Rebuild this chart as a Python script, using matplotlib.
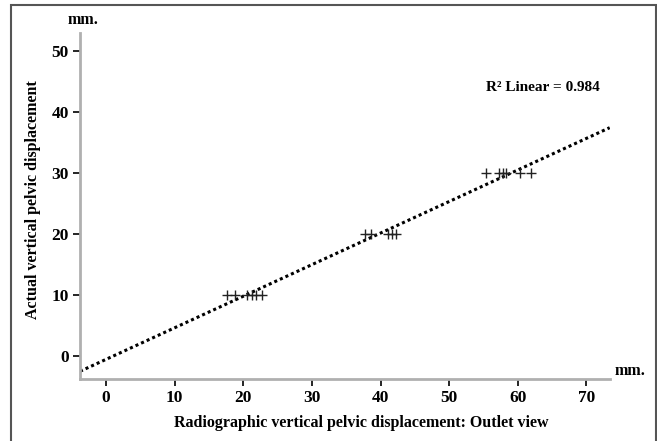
import numpy as np
import matplotlib
matplotlib.use('Agg')
import matplotlib.pyplot as plt
from matplotlib.patches import Rectangle

# Radiographic (outlet view) vs actual vertical pelvic displacement, mm
radiographic = [17.6, 18.8, 20.5, 21.2, 21.8, 22.7,
                37.8, 38.6, 41.1, 41.6, 42.2,
                55.4, 57.2, 57.8, 58.3, 60.3, 61.9]
actual = [10, 10, 10, 10, 10, 10,
          20, 20, 20, 20, 20,
          30, 30, 30, 30, 30, 30]
x_ticks = [0, 10, 20, 30, 40, 50, 60, 70]
y_ticks = [0, 10, 20, 30, 40, 50]
r2_text = 'R² Linear = 0.984'

plt.rcParams['font.family'] = 'Liberation Serif'
plt.rcParams['font.weight'] = 'bold'

fig = plt.figure(figsize=(6.57, 4.41), dpi=100)
ax = fig.add_axes([0.1218, 0.1406, 0.8062, 0.7844])

xmin, xmax = -3.8, 73.4
ymin, ymax = -3.8, 53.0

# linear fit line over the whole x range
slope, intercept = np.polyfit(radiographic, actual, 1)
xs = np.array([xmin, xmax])
ax.plot(xs, slope * xs + intercept, color='black', linestyle=(0, (1, 1.0)), linewidth=2.2)

ax.plot(radiographic, actual, linestyle='none', marker='+', markersize=7,
        markeredgewidth=1.0, color='#222222')

ax.set_xlim(xmin, xmax)
ax.set_ylim(ymin, ymax)
ax.set_xticks(x_ticks)
ax.set_yticks(y_ticks)
ax.tick_params(direction='out', length=5, width=1.2, labelsize=12.5, pad=3)

for side in ['top', 'right']:
    ax.spines[side].set_visible(False)
for side in ['left', 'bottom']:
    ax.spines[side].set_color('#b0b0b0')
    ax.spines[side].set_linewidth(2)

ax.text(63.6, 44, r2_text, ha='center', va='center', fontsize=11, fontweight='bold')

fig.text(68 / 657, 1 - 20 / 441, 'mm.', ha='left', va='center', fontsize=11.5, fontweight='bold')
fig.text(615 / 657, 1 - 371 / 441, 'mm.', ha='left', va='center', fontsize=11.5, fontweight='bold')

fig.text(361 / 657, 1 - 423 / 441, 'Radiographic vertical pelvic displacement: Outlet view',
         ha='center', va='center', fontsize=11.5, fontweight='bold')
fig.text(33 / 657, 1 - 200 / 441, 'Actual vertical pelvic displacement',
         ha='center', va='center', rotation=90, fontsize=11.5, fontweight='bold')

# outer frame (open at the bottom)
fig.patches.append(Rectangle((11 / 657, -0.1), 645 / 657, 1.1 - 5 / 441,
                             transform=fig.transFigure, fill=False,
                             edgecolor='#555555', linewidth=1.5))

fig.savefig('out.png', dpi=100)
